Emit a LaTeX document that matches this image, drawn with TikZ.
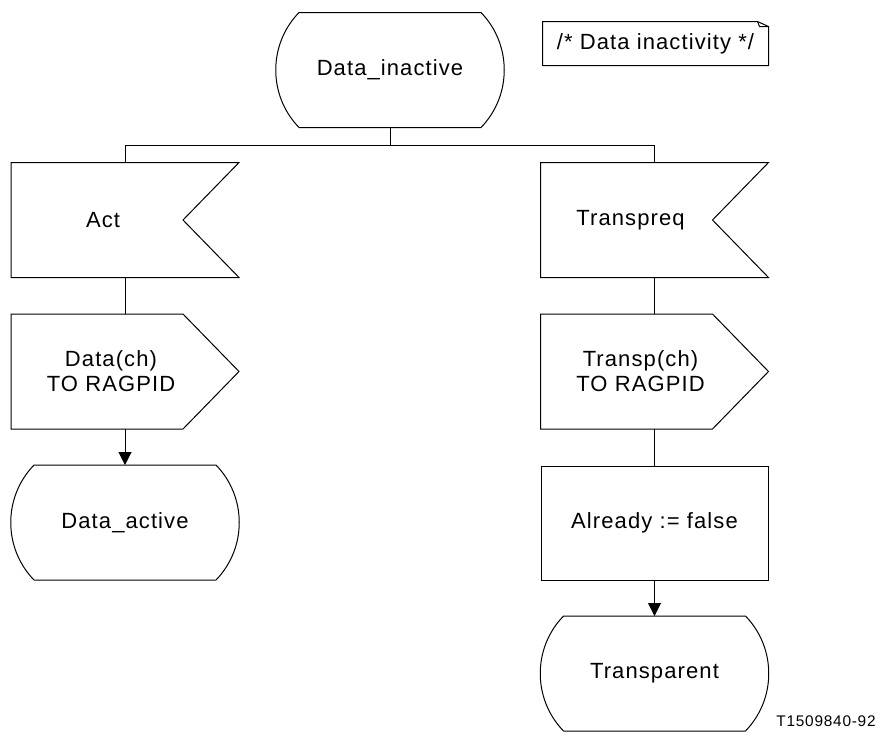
\documentclass[tikz,border=0pt]{standalone}
\usepackage{fontspec}
\setmainfont{Liberation Sans}[LetterSpace=5]
\usepackage{tikz}
\usetikzlibrary{arrows.meta, calc}

\begin{document}
\begin{tikzpicture}[x=0.5pt, y=-0.5pt, line width=0.5pt,
    font=\fontsize{11}{12.5}\selectfont,
    box/.style={minimum width=113.5pt, minimum height=57pt, inner sep=0pt, align=center},
    flow/.style={-{Triangle[length=6.5pt, width=6.5pt]}}]
    \useasboundingbox (0,0) rectangle (885,735);

    % States
    \node[box] (inactive) at (390,70) {Data\_inactive};
    \node[box] (active) at (125,522.5) {Data\_active};
    \node[box] (transparent) at (654.5,673.5) {Transparent};
    \foreach \n in {inactive, active, transparent}
        \draw ($(\n.north west)+(23,0)$) -- ($(\n.north east)+(-23,0)$)
            .. controls ($(\n.north east)+(8,32)$) and ($(\n.south east)+(8,-32)$) .. ($(\n.south east)+(-23,0)$)
            -- ($(\n.south west)+(23,0)$)
            .. controls ($(\n.south west)+(-8,-32)$) and ($(\n.north west)+(-8,32)$) .. cycle;

    % Input signals
    \node[box, label={[xshift=-11pt]center:Act}] (act) at (125,220) {};
    \node[box, label={[xshift=-12pt]center:Transpreq}] (transpreq) at (654.5,220) {};
    \foreach \n in {act, transpreq}
        \draw (\n.north west) -- (\n.north east) -- ($(\n.east)+(-56,0)$)
            -- (\n.south east) -- (\n.south west) -- cycle;

    % Output signals
    \node[box, label={[xshift=-7pt, align=center]center:Data(ch)\\TO RAGPID}] (dataout) at (125,371.5) {};
    \node[box, label={[xshift=-7pt, align=center]center:Transp(ch)\\TO RAGPID}] (transpout) at (654.5,371.5) {};
    \foreach \n in {dataout, transpout}
        \draw (\n.north west) -- ($(\n.north east)+(-56,0)$) -- (\n.east)
            -- ($(\n.south east)+(-56,0)$) -- (\n.south west) -- cycle;

    % Task
    \node[box, draw] (already) at (654.5,523) {Already := false};

    % Comment
    \node[minimum width=112.5pt, minimum height=21.5pt, inner sep=0pt] (note) at (655.5,43.5) {/* Data inactivity */};
    \draw ($(note.north east)+(-11,0)$) -- (note.north west) -- (note.south west)
        -- (note.south east) -- ($(note.north east)+(0,5)$) -- cycle;
    \draw ($(note.north east)+(-11,0)$) -- ($(note.north east)+(-9,5)$) -- ($(note.north east)+(0,5)$);

    % Figure number
    \node[font=\fontsize{7.7}{9}\selectfont] (fignum) at (826,721) {T1509840-92};

    % Connections
    \coordinate (fork) at ($(inactive.south)+(0,18)$);
    \draw (inactive.south) -- (fork);
    \draw (act.north) |- (fork) -| (transpreq.north);
    \draw (act.south) -- (dataout.north);
    \draw[flow] (dataout.south) -- (active.north);
    \draw (transpreq.south) -- (transpout.north);
    \draw (transpout.south) -- (already.north);
    \draw[flow] (already.south) -- (transparent.north);
\end{tikzpicture}
\end{document}
